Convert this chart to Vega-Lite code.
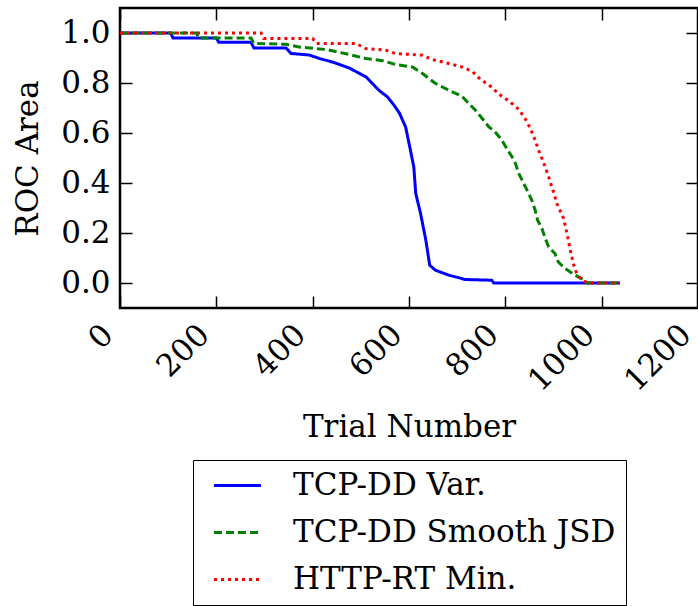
{
  "$schema": "https://vega.github.io/schema/vega-lite/v6.json",
  "width": 578,
  "height": 300,
  "autosize": {"type": "none"},
  "padding": {"left": 120, "top": 8, "right": 0, "bottom": 298},
  "background": "white",
  "config": {
    "font": "DejaVu Serif",
    "view": {"stroke": "black", "strokeWidth": 2.5},
    "axis": {"domain": false, "grid": false, "tickColor": "black", "tickWidth": 1.5, "labelColor": "black", "titleColor": "black", "labelFont": "DejaVu Serif", "titleFont": "DejaVu Serif", "labelFontSize": 31, "titleFontSize": 31, "titleFontWeight": "normal"}
  },
  "datasets": {
    "roc": [
      {"s": "TCP-DD Var.", "x": 0, "y": 1.0},
      {"s": "TCP-DD Var.", "x": 105, "y": 1.0},
      {"s": "TCP-DD Var.", "x": 110, "y": 0.98},
      {"s": "TCP-DD Var.", "x": 200, "y": 0.98},
      {"s": "TCP-DD Var.", "x": 205, "y": 0.963},
      {"s": "TCP-DD Var.", "x": 272, "y": 0.963},
      {"s": "TCP-DD Var.", "x": 278, "y": 0.94},
      {"s": "TCP-DD Var.", "x": 345, "y": 0.94},
      {"s": "TCP-DD Var.", "x": 355, "y": 0.918},
      {"s": "TCP-DD Var.", "x": 393, "y": 0.912},
      {"s": "TCP-DD Var.", "x": 414, "y": 0.898},
      {"s": "TCP-DD Var.", "x": 441, "y": 0.884},
      {"s": "TCP-DD Var.", "x": 476, "y": 0.86},
      {"s": "TCP-DD Var.", "x": 511, "y": 0.824},
      {"s": "TCP-DD Var.", "x": 538, "y": 0.77},
      {"s": "TCP-DD Var.", "x": 555, "y": 0.745},
      {"s": "TCP-DD Var.", "x": 569, "y": 0.711},
      {"s": "TCP-DD Var.", "x": 580, "y": 0.68},
      {"s": "TCP-DD Var.", "x": 593, "y": 0.624},
      {"s": "TCP-DD Var.", "x": 603, "y": 0.531},
      {"s": "TCP-DD Var.", "x": 610, "y": 0.464},
      {"s": "TCP-DD Var.", "x": 614, "y": 0.358},
      {"s": "TCP-DD Var.", "x": 624, "y": 0.278},
      {"s": "TCP-DD Var.", "x": 635, "y": 0.171},
      {"s": "TCP-DD Var.", "x": 643, "y": 0.071},
      {"s": "TCP-DD Var.", "x": 655, "y": 0.051},
      {"s": "TCP-DD Var.", "x": 683, "y": 0.031},
      {"s": "TCP-DD Var.", "x": 717, "y": 0.014},
      {"s": "TCP-DD Var.", "x": 772, "y": 0.011},
      {"s": "TCP-DD Var.", "x": 776, "y": 0.0},
      {"s": "TCP-DD Var.", "x": 1038, "y": 0.0},
      {"s": "TCP-DD Smooth JSD", "x": 0, "y": 1.0},
      {"s": "TCP-DD Smooth JSD", "x": 159, "y": 1.0},
      {"s": "TCP-DD Smooth JSD", "x": 163, "y": 0.98},
      {"s": "TCP-DD Smooth JSD", "x": 272, "y": 0.98},
      {"s": "TCP-DD Smooth JSD", "x": 278, "y": 0.958},
      {"s": "TCP-DD Smooth JSD", "x": 345, "y": 0.955},
      {"s": "TCP-DD Smooth JSD", "x": 372, "y": 0.944},
      {"s": "TCP-DD Smooth JSD", "x": 428, "y": 0.934},
      {"s": "TCP-DD Smooth JSD", "x": 476, "y": 0.914},
      {"s": "TCP-DD Smooth JSD", "x": 510, "y": 0.898},
      {"s": "TCP-DD Smooth JSD", "x": 545, "y": 0.889},
      {"s": "TCP-DD Smooth JSD", "x": 572, "y": 0.874},
      {"s": "TCP-DD Smooth JSD", "x": 607, "y": 0.864},
      {"s": "TCP-DD Smooth JSD", "x": 628, "y": 0.838},
      {"s": "TCP-DD Smooth JSD", "x": 655, "y": 0.798},
      {"s": "TCP-DD Smooth JSD", "x": 683, "y": 0.771},
      {"s": "TCP-DD Smooth JSD", "x": 710, "y": 0.747},
      {"s": "TCP-DD Smooth JSD", "x": 724, "y": 0.718},
      {"s": "TCP-DD Smooth JSD", "x": 738, "y": 0.691},
      {"s": "TCP-DD Smooth JSD", "x": 752, "y": 0.658},
      {"s": "TCP-DD Smooth JSD", "x": 766, "y": 0.624},
      {"s": "TCP-DD Smooth JSD", "x": 779, "y": 0.604},
      {"s": "TCP-DD Smooth JSD", "x": 793, "y": 0.571},
      {"s": "TCP-DD Smooth JSD", "x": 803, "y": 0.538},
      {"s": "TCP-DD Smooth JSD", "x": 814, "y": 0.504},
      {"s": "TCP-DD Smooth JSD", "x": 821, "y": 0.478},
      {"s": "TCP-DD Smooth JSD", "x": 828, "y": 0.438},
      {"s": "TCP-DD Smooth JSD", "x": 838, "y": 0.398},
      {"s": "TCP-DD Smooth JSD", "x": 847, "y": 0.364},
      {"s": "TCP-DD Smooth JSD", "x": 855, "y": 0.331},
      {"s": "TCP-DD Smooth JSD", "x": 862, "y": 0.291},
      {"s": "TCP-DD Smooth JSD", "x": 867, "y": 0.251},
      {"s": "TCP-DD Smooth JSD", "x": 876, "y": 0.218},
      {"s": "TCP-DD Smooth JSD", "x": 883, "y": 0.178},
      {"s": "TCP-DD Smooth JSD", "x": 890, "y": 0.144},
      {"s": "TCP-DD Smooth JSD", "x": 903, "y": 0.118},
      {"s": "TCP-DD Smooth JSD", "x": 910, "y": 0.084},
      {"s": "TCP-DD Smooth JSD", "x": 924, "y": 0.058},
      {"s": "TCP-DD Smooth JSD", "x": 945, "y": 0.031},
      {"s": "TCP-DD Smooth JSD", "x": 962, "y": 0.014},
      {"s": "TCP-DD Smooth JSD", "x": 970, "y": 0.0},
      {"s": "TCP-DD Smooth JSD", "x": 1038, "y": 0.0},
      {"s": "HTTP-RT Min.", "x": 0, "y": 1.0},
      {"s": "HTTP-RT Min.", "x": 293, "y": 1.0},
      {"s": "HTTP-RT Min.", "x": 298, "y": 0.978},
      {"s": "HTTP-RT Min.", "x": 400, "y": 0.978},
      {"s": "HTTP-RT Min.", "x": 407, "y": 0.958},
      {"s": "HTTP-RT Min.", "x": 490, "y": 0.958},
      {"s": "HTTP-RT Min.", "x": 510, "y": 0.938},
      {"s": "HTTP-RT Min.", "x": 552, "y": 0.931},
      {"s": "HTTP-RT Min.", "x": 572, "y": 0.918},
      {"s": "HTTP-RT Min.", "x": 628, "y": 0.911},
      {"s": "HTTP-RT Min.", "x": 648, "y": 0.894},
      {"s": "HTTP-RT Min.", "x": 683, "y": 0.878},
      {"s": "HTTP-RT Min.", "x": 710, "y": 0.864},
      {"s": "HTTP-RT Min.", "x": 731, "y": 0.847},
      {"s": "HTTP-RT Min.", "x": 748, "y": 0.815},
      {"s": "HTTP-RT Min.", "x": 769, "y": 0.787},
      {"s": "HTTP-RT Min.", "x": 790, "y": 0.751},
      {"s": "HTTP-RT Min.", "x": 810, "y": 0.724},
      {"s": "HTTP-RT Min.", "x": 828, "y": 0.694},
      {"s": "HTTP-RT Min.", "x": 841, "y": 0.658},
      {"s": "HTTP-RT Min.", "x": 852, "y": 0.618},
      {"s": "HTTP-RT Min.", "x": 862, "y": 0.571},
      {"s": "HTTP-RT Min.", "x": 869, "y": 0.531},
      {"s": "HTTP-RT Min.", "x": 879, "y": 0.484},
      {"s": "HTTP-RT Min.", "x": 890, "y": 0.424},
      {"s": "HTTP-RT Min.", "x": 900, "y": 0.364},
      {"s": "HTTP-RT Min.", "x": 907, "y": 0.318},
      {"s": "HTTP-RT Min.", "x": 921, "y": 0.258},
      {"s": "HTTP-RT Min.", "x": 928, "y": 0.198},
      {"s": "HTTP-RT Min.", "x": 935, "y": 0.131},
      {"s": "HTTP-RT Min.", "x": 941, "y": 0.078},
      {"s": "HTTP-RT Min.", "x": 948, "y": 0.038},
      {"s": "HTTP-RT Min.", "x": 959, "y": 0.011},
      {"s": "HTTP-RT Min.", "x": 972, "y": 0.0},
      {"s": "HTTP-RT Min.", "x": 1038, "y": 0.0}
    ]
  },
  "data": {"name": "roc"},
  "resolve": {"axis": {"x": "independent", "y": "independent"}},
  "layer": [
    {
      "mark": {"type": "line", "strokeWidth": 3, "clip": true},
      "encoding": {
        "x": {"field": "x", "type": "quantitative", "scale": {"domain": [0, 1200], "nice": false, "zero": false},
              "axis": {"orient": "bottom", "title": "Trial Number", "values": [0, 200, 400, 600, 800, 1000, 1200], "format": "d", "tickSize": -12, "labelAngle": -45, "labelAlign": "right", "labelBaseline": "middle", "labelPadding": 34, "labelOffset": -12, "titlePadding": 16, "labelFlush": false, "labelOverlap": false, "labelBound": false}},
        "y": {"field": "y", "type": "quantitative", "scale": {"domain": [-0.1, 1.1], "nice": false, "zero": false},
              "axis": {"orient": "left", "title": "ROC Area", "values": [0, 0.2, 0.4, 0.6, 0.8, 1.0], "format": ".1f", "tickSize": -12, "labelPadding": 22, "titlePadding": 16, "labelFlush": false, "labelOverlap": false}},
        "color": {"field": "s", "type": "nominal", "title": null,
                  "scale": {"domain": ["TCP-DD Var.", "TCP-DD Smooth JSD", "HTTP-RT Min."], "range": ["#0000ff", "#008000", "#ff0000"]},
                  "legend": {"orient": "none", "legendX": 73, "legendY": 452, "symbolType": "M-2,0H2", "symbolSize": 552, "symbolStrokeWidth": 3, "labelFont": "DejaVu Serif", "labelFontSize": 31, "labelColor": "black", "labelOffset": 40, "strokeColor": "black", "fillColor": "white", "padding": 10, "symbolOffset": 19, "rowPadding": 15, "labelLimit": 500}},
        "strokeDash": {"field": "s", "type": "nominal", "title": null,
                       "scale": {"domain": ["TCP-DD Var.", "TCP-DD Smooth JSD", "HTTP-RT Min."], "range": [[1, 0], [8, 4], [3, 4]]},
                       "legend": {"orient": "none", "legendX": 73, "legendY": 452, "symbolType": "M-2,0H2", "symbolSize": 552, "symbolStrokeWidth": 3, "labelFont": "DejaVu Serif", "labelFontSize": 31, "labelColor": "black", "labelOffset": 40, "strokeColor": "black", "fillColor": "white", "padding": 10, "symbolOffset": 19, "rowPadding": 15, "labelLimit": 500}}
      }
    },
    {
      "mark": {"type": "line", "opacity": 0},
      "encoding": {
        "detail": {"field": "s"},
        "x": {"field": "x", "type": "quantitative",
              "axis": {"orient": "top", "title": null, "labels": false, "values": [0, 200, 400, 600, 800, 1000, 1200], "tickSize": -12}},
        "y": {"field": "y", "type": "quantitative",
              "axis": {"orient": "right", "title": null, "labels": false, "values": [0, 0.2, 0.4, 0.6, 0.8, 1.0], "tickSize": -12}}
      }
    }
  ]
}
